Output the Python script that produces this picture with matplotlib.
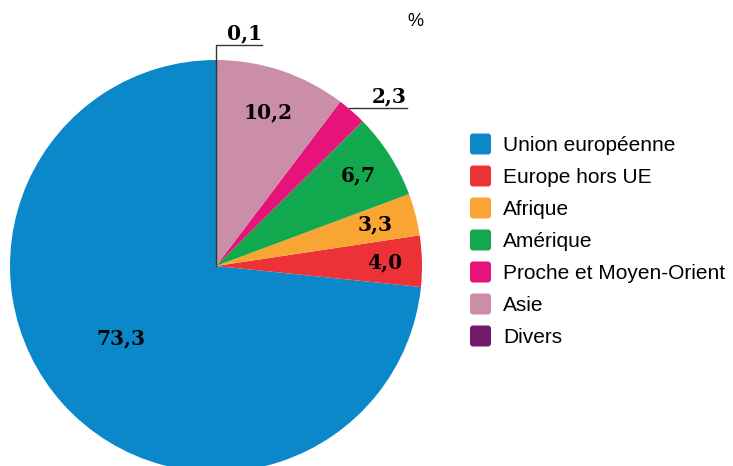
import numpy as np
import matplotlib.pyplot as plt
from matplotlib.patches import FancyBboxPatch

# Parts by origin, in %
regions = ["Union européenne", "Europe hors UE", "Afrique", "Amérique",
           "Proche et Moyen-Orient", "Asie", "Divers"]
shares = [73.3, 4.0, 3.3, 6.7, 2.3, 10.2, 0.1]
labels = ["73,3", "4,0", "3,3", "6,7", "2,3", "10,2", "0,1"]
colors = ["#0a88c9", "#ec3237", "#f9a533", "#12a84e", "#e5137a", "#cb8ea9", "#731a6a"]

fig = plt.figure(figsize=(7.33, 4.66), dpi=100)
ax = fig.add_axes([0, 0, 1, 1])

cx, cy, r = 216, 200, 206
wedges, _ = ax.pie(shares, colors=colors, startangle=90, center=(cx, cy), radius=r)
ax.set_xlim(0, 733)
ax.set_ylim(0, 466)
ax.set_aspect("equal")
ax.axis("off")

numfont = dict(family="DejaVu Serif", weight="heavy", fontsize=14.5, color="black")

# labels inside the wedges
inside = {0: 0.58, 1: 0.82, 2: 0.80, 3: 0.82, 5: 0.79}
for i, frac in inside.items():
    w = wedges[i]
    a = np.deg2rad((w.theta1 + w.theta2) / 2)
    if i == 0:
        a -= np.deg2rad(5)
    ax.text(cx + frac * r * np.cos(a), cy + frac * r * np.sin(a), labels[i],
            ha="center", va="center", **numfont)

# small wedges get leader lines
w = wedges[4]
a = np.deg2rad((w.theta1 + w.theta2) / 2)
ex, ey = cx + r * np.cos(a), cy + r * np.sin(a) + 3
ax.plot([ex - 3, ex + 55], [ey, ey], color="#333333", lw=1)
ax.text(ex + 37, ey + 2, labels[4], ha="center", va="bottom", **numfont)

w = wedges[6]
a = np.deg2rad((w.theta1 + w.theta2) / 2)
ex, ey = cx + r * np.cos(a) - 1, cy + r * np.sin(a)
ax.plot([ex, ex, ex + 46], [cy, ey + 15, ey + 15], color="#2e3a2a", lw=1)
ax.text(ex + 29, ey + 17, labels[6], ha="center", va="bottom", **numfont)

ax.text(415, 444, "%", ha="center", va="center", family="Liberation Sans", fontsize=13)

# legend with rounded swatches
for k, (name, col) in enumerate(zip(regions, colors)):
    y = 466 - 144 - k * 32
    ax.add_patch(FancyBboxPatch((470, y - 10.5), 21, 21, boxstyle="round,pad=0,rounding_size=3",
                                fc=col, ec="none"))
    ax.text(503, y - 1.5, name, ha="left", va="center", family="Liberation Sans", fontsize=15)

fig.savefig("out.png", dpi=100)
